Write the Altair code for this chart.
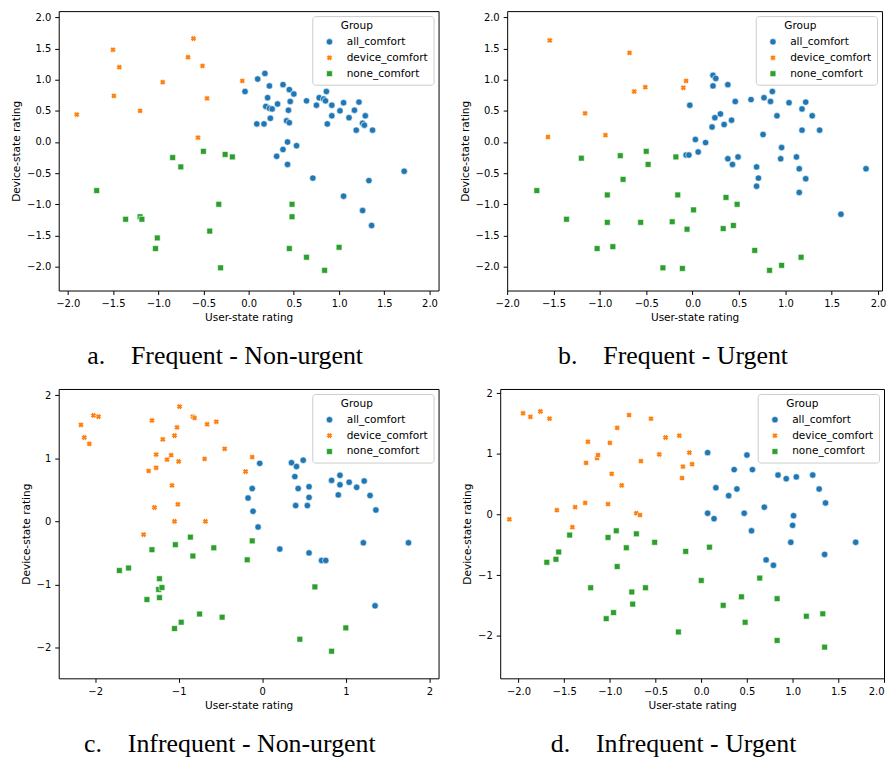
import altair as alt
import pandas as pd

GROUPS = ["all_comfort", "device_comfort", "none_comfort"]
COLORS = ["#1f77b4", "#ff7f0e", "#2ca02c"]
X_PATH = "M-0.9,-0.32L-0.32,-0.9L0,-0.58L0.32,-0.9L0.9,-0.32L0.58,0L0.9,0.32L0.32,0.9L0,0.58L-0.32,0.9L-0.9,0.32L-0.58,0Z"
SQ_PATH = "M-0.9,-0.9H0.9V0.9H-0.9Z"
SHAPES = ["circle", X_PATH, SQ_PATH]

GAP = "\u00a0" * 4
captions = ["a." + GAP + "Frequent - Non-urgent", "b." + GAP + "Frequent - Urgent",
            "c." + GAP + "Infrequent - Non-urgent", "d." + GAP + "Infrequent - Urgent"]

# ---- Panel a: Frequent - Non-urgent ----
a_all_x = [-0.04, 0.10, 0.18, 0.23, 0.21, 0.09, 0.17, 0.19, 0.23, 0.26, 0.24, 0.32, 0.38, 0.45, 0.50, 0.46, 0.44,
           0.42, 0.45, 0.43, 0.38, 0.53, 0.31, 0.43, 0.64, 0.78, 0.75, 0.83, 0.85, 0.86, 0.92, 0.92, 0.87, 1.01,
           1.05, 1.11, 1.17, 1.22, 1.19, 1.26, 1.28, 1.29, 1.37, 0.71, 1.05, 1.33, 1.26, 1.36, 1.72]
a_all_y = [0.81, 1.01, 1.10, 0.90, 0.71, 0.29, 0.29, 0.57, 0.54, 0.53, 0.38, 0.61, 0.92, 0.84, 0.77, 0.65, 0.51,
           0.34, 0.31, 0.00, -0.12, -0.06, -0.23, -0.36, 0.66, 0.71, 0.59, 0.69, 0.66, 0.81, 0.59, 0.42, 0.29, 0.50,
           0.63, 0.39, 0.51, 0.64, 0.19, 0.30, 0.27, 0.42, 0.19, -0.58, -0.87, -0.62, -1.10, -1.34, -0.47]
a_dev_x = [-1.90, -1.50, -1.49, -1.43, -1.20, -0.95, -0.61, -0.67, -0.51, -0.46, -0.56, -0.07]
a_dev_y = [0.44, 1.48, 0.74, 1.20, 0.50, 0.96, 1.66, 1.36, 1.22, 0.70, 0.07, 0.98]
a_none_x = [-1.68, -1.36, -1.20, -1.18, -1.01, -1.03, -0.84, -0.75, -0.50, -0.26, -0.18, -0.33, -0.43, -0.31,
            0.48, 0.48, 0.45, 0.64, 0.84, 1.00]
a_none_y = [-0.78, -1.24, -1.20, -1.24, -1.54, -1.71, -0.25, -0.40, -0.15, -0.20, -0.24, -1.00, -1.43, -2.02,
            -1.00, -1.20, -1.71, -1.85, -2.06, -1.69]

# ---- Panel b: Frequent - Urgent ----
b_all_x = [-0.03, -0.07, -0.04, 0.03, 0.06, 0.14, 0.21, 0.22, 0.25, 0.22, 0.24, 0.30, 0.34, 0.38, 0.42, 0.46,
           0.38, 0.43, 0.49, 0.63, 0.77, 0.76, 0.84, 0.86, 0.91, 0.95, 0.96, 1.04, 1.18, 1.22, 1.18, 1.29, 1.37,
           1.12, 1.15, 1.22, 1.15, 0.69, 0.71, 0.69, 1.60, 1.87]
b_all_y = [0.59, -0.21, -0.21, 0.04, -0.16, -0.01, 0.24, 1.07, 1.02, 0.90, 0.39, 0.45, 0.28, 0.92, 0.35, 0.65,
           -0.27, -0.36, -0.24, 0.68, 0.71, 0.12, 0.65, 0.81, 0.42, -0.27, -0.09, 0.63, 0.53, 0.64, 0.19, 0.42, 0.19,
           -0.24, -0.43, -0.59, -0.81, -0.40, -0.58, -0.71, -1.16, -0.43]
b_dev_x = [-1.54, -1.56, -1.16, -0.94, -0.68, -0.63, -0.51, -0.10, -0.07]
b_dev_y = [1.63, 0.08, 0.46, 0.11, 1.43, 0.81, 0.88, 0.87, 0.98]
b_none_x = [-1.68, -1.36, -1.20, -1.03, -0.92, -0.92, -0.86, -0.78, -0.75, -0.56, -0.50, -0.48, -0.32, -0.22,
            -0.18, -0.16, -0.11, -0.06, 0.01, 0.33, 0.36, 0.44, 0.48, 0.67, 0.83, 0.96, 1.17]
b_none_y = [-0.78, -1.24, -0.26, -1.71, -0.85, -1.29, -1.68, -0.22, -0.60, -1.29, -0.15, -0.36, -2.02, -1.28,
            -0.24, -0.85, -2.03, -1.40, -1.09, -1.39, -0.89, -1.34, -1.00, -1.74, -2.06, -1.98, -1.85]

# ---- Panel c: Infrequent - Non-urgent ----
c_all_x = [-0.17, -0.12, -0.11, -0.05, -0.03, 0.21, 0.35, 0.41, 0.49, 0.39, 0.43, 0.40, 0.54, 0.56, 0.56, 0.56,
           0.71, 0.76, 0.83, 0.91, 0.93, 0.93, 1.04, 1.13, 1.22, 1.21, 1.29, 1.36, 1.35, 1.75]
c_all_y = [0.37, 0.52, 0.16, -0.09, 0.92, -0.44, 0.93, 0.87, 0.97, 0.71, 0.52, 0.25, 0.25, 0.55, 0.38, -0.50,
           -0.62, -0.62, 0.65, 0.42, 0.58, 0.73, 0.62, 0.54, 0.64, -0.34, 0.41, 0.18, -1.34, -0.34]
c_dev_x = [-2.17, -2.13, -2.07, -2.02, -1.96, -1.42, -1.36, -1.32, -1.29, -1.27, -1.27, -1.19, -1.14, -1.09,
           -1.08, -1.05, -1.05, -1.02, -1.01, -1.00, -0.99, -0.83, -0.81, -0.69, -0.68, -0.66, -0.55, -0.45,
           -0.20, -0.12]
c_dev_y = [1.53, 1.33, 1.23, 1.68, 1.66, -0.21, 0.80, 1.60, 0.22, 1.06, 0.85, 1.30, 0.98, 1.05, 0.57, 1.36, 0.00,
           1.49, 0.27, 0.95, 1.82, 1.66, 1.64, 0.99, 0.00, 1.54, 1.58, 1.15, 0.79, 1.02]
c_none_x = [-1.71, -1.60, -1.38, -1.32, -1.24, -1.23, -1.23, -1.20, -1.05, -1.04, -0.97, -0.86, -0.83, -0.75,
            -0.58, -0.48, -0.18, -0.12, 0.45, 0.63, 0.83, 1.00]
c_none_y = [-0.78, -0.74, -1.24, -0.45, -1.08, -0.91, -1.21, -1.05, -1.70, -0.37, -1.60, -0.25, -0.55, -1.47,
            -0.42, -1.52, -0.61, -0.31, -1.87, -1.04, -2.06, -1.69]

# ---- Panel d: Infrequent - Urgent ----
d_all_x = [0.07, 0.07, 0.14, 0.16, 0.30, 0.36, 0.39, 0.47, 0.50, 0.55, 0.56, 0.69, 0.71, 0.79, 0.84, 0.93, 0.98,
           1.00, 1.01, 1.04, 1.22, 1.29, 1.35, 1.36, 1.69]
d_all_y = [1.02, 0.02, -0.07, 0.44, 0.31, 0.74, 0.42, 0.02, 0.98, -0.27, 0.74, 0.12, -0.75, -0.84, 0.65, 0.59,
           -0.46, -0.18, -0.02, 0.62, 0.65, 0.42, -0.66, 0.19, -0.46]
d_dev_x = [-2.10, -1.95, -1.87, -1.76, -1.66, -1.58, -1.41, -1.38, -1.27, -1.26, -1.24, -1.14, -1.13, -1.02,
           -1.00, -0.98, -0.92, -0.87, -0.79, -0.71, -0.67, -0.66, -0.55, -0.46, -0.39, -0.24, -0.21, -0.20,
           -0.13, -0.10]
d_dev_y = [-0.08, 1.67, 1.61, 1.70, 1.58, 0.07, -0.21, 0.12, 0.19, 0.85, 1.20, 0.93, 0.98, 0.17, 1.18, 0.67, 1.43,
           0.48, 1.64, 0.02, -0.01, 0.88, 1.58, 0.99, 1.27, 1.30, 0.60, 0.79, 1.02, 0.83]
d_none_x = [-1.69, -1.59, -1.56, -1.44, -1.21, -1.04, -1.02, -0.96, -0.93, -0.92, -0.82, -0.76, -0.75, -0.71,
            -0.61, -0.51, -0.25, -0.17, 0.00, 0.09, 0.24, 0.44, 0.48, 0.64, 0.83, 0.83, 1.15, 1.33, 1.35]
d_none_y = [-0.79, -0.74, -0.62, -0.34, -1.21, -1.72, -0.38, -1.62, -0.27, -0.86, -0.55, -1.28, -1.48, -0.32,
            -1.21, -0.46, -1.94, -0.61, -1.09, -0.54, -1.50, -1.36, -1.78, -1.05, -1.39, -2.08, -1.68, -1.64, -2.19]

ticks_half = [-2.0, -1.5, -1.0, -0.5, 0.0, 0.5, 1.0, 1.5, 2.0]
ticks_int = [-2, -1, 0, 1, 2]


def frame(ax, ay, dx, dy, nx, ny):
    rows = []
    for g, xs, ys in (("all_comfort", ax, ay), ("device_comfort", dx, dy), ("none_comfort", nx, ny)):
        for x, y in zip(xs, ys):
            rows.append({"User-state rating": x, "Device-state rating": y, "Group": g})
    return pd.DataFrame(rows)


def panel(df, xdom, ydom, xticks, yticks, xfmt, yfmt, w, h, caption, flush=False):
    legend = alt.Legend(
        orient="top-right", offset=5, title="Group", titleAnchor="middle", titleAlign="right",
        padding=5, symbolOffset=7, labelOffset=12, rowPadding=5, titlePadding=5,
        fillColor="rgba(255,255,255,0.8)", strokeColor="#cccccc", cornerRadius=3,
        labelFont="DejaVu Sans", titleFont="DejaVu Sans", labelFontSize=10.6, titleFontSize=10.6,
        titleFontWeight="normal", labelColor="black", titleColor="black", symbolSize=42,
        symbolStrokeColor="white", symbolStrokeWidth=0.6,
    )
    xaxis = alt.Axis(values=xticks, format=xfmt, labelFlush=flush, labelOverlap=False, titlePadding=4)
    yaxis = alt.Axis(values=yticks, format=yfmt, labelOverlap=False, titlePadding=5)
    return alt.Chart(df).mark_point(filled=True, size=42, opacity=1, stroke="white", strokeWidth=0.6).encode(
        x=alt.X("User-state rating:Q", scale=alt.Scale(domain=xdom, nice=False, zero=False), axis=xaxis),
        y=alt.Y("Device-state rating:Q", scale=alt.Scale(domain=ydom, nice=False, zero=False), axis=yaxis),
        color=alt.Color("Group:N", scale=alt.Scale(domain=GROUPS, range=COLORS), legend=legend),
        shape=alt.Shape("Group:N", scale=alt.Scale(domain=GROUPS, range=SHAPES), legend=legend),
    ).properties(
        width=w, height=h,
        title=alt.TitleParams(caption, orient="bottom", anchor="middle", frame="bounds", font="Liberation Serif",
                              fontSize=26, fontWeight="normal", color="black", offset=20.5),
    )


pa = panel(frame(a_all_x, a_all_y, a_dev_x, a_dev_y, a_none_x, a_none_y), [-2.1, 2.1], [-2.384, 2.1],
           ticks_half, ticks_half, ".1f", ".1f", 382, 281, captions[0])
pb = panel(frame(b_all_x, b_all_y, b_dev_x, b_dev_y, b_none_x, b_none_y), [-2.0, 2.043], [-2.384, 2.1],
           ticks_half, ticks_half, ".1f", ".1f", 377, 281, captions[1])
pc = panel(frame(c_all_x, c_all_y, c_dev_x, c_dev_y, c_none_x, c_none_y), [-2.436, 2.11], [-2.49, 2.1],
           ticks_int, ticks_int, "d", "d", 382, 291, captions[2])
pd_ = panel(frame(d_all_x, d_all_y, d_dev_x, d_dev_y, d_none_x, d_none_y), [-2.2, 2.0], [-2.705, 2.071],
            ticks_half, ticks_int, ".1f", "d", 386, 291, captions[3], flush=True)

row0 = alt.hconcat(pa, pb, spacing=20).resolve_legend(color="independent", shape="independent")
row1 = alt.hconcat(pc, pd_, spacing=22).resolve_legend(color="independent", shape="independent")

chart = alt.vconcat(row0, row1, spacing=17).resolve_legend(
    color="independent", shape="independent"
).properties(
    padding={"left": 3, "top": 0, "right": 0, "bottom": 0}
).configure(
    background="white"
).configure_view(
    stroke="black", strokeWidth=1
).configure_axis(
    grid=False, domain=False, ticks=True, tickColor="black", tickSize=4, tickWidth=1, labelPadding=4,
    labelFont="DejaVu Sans", labelFontSize=10, labelColor="black",
    titleFont="DejaVu Sans", titleFontSize=10.6, titleFontWeight="normal", titleColor="black",
)

chart.save("out.html", embed_options={"renderer": "svg", "actions": False})
